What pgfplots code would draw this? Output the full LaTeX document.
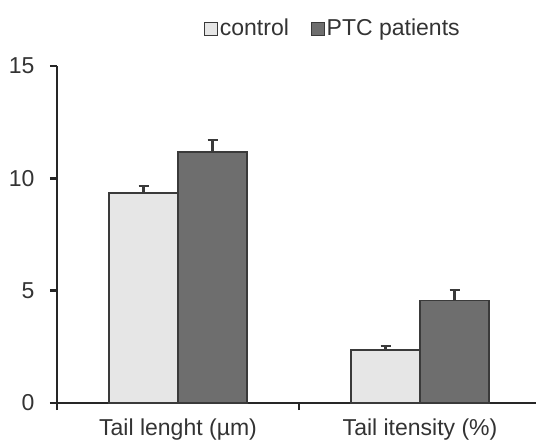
\documentclass[border=0pt]{standalone}
\usepackage{fontspec}
\setmainfont{Liberation Sans}
\usepackage{pgfplots}
\pgfplotsset{compat=1.18}
\definecolor{ctrl}{HTML}{E6E6E6}
\definecolor{ptc}{HTML}{6E6E6E}
\definecolor{edge}{HTML}{3A3A3A}
\definecolor{txt}{HTML}{333333}
\pgfplotsset{myerr/.style={
  error bars/y dir=plus, error bars/y explicit,
  error bars/error bar style={line width=2.5bp, edge},
  error bars/error mark options={line width=2.5bp, edge, mark size=5bp, rotate=90}}}
\begin{document}
\begin{tikzpicture}[x=1bp,y=1bp]
\useasboundingbox (-57bp,-41bp) rectangle (479bp,403bp);
\begin{axis}[
  at={(0,0)}, anchor=origin,
  scale only axis, width=479bp, height=337bp,
  xmin=0, xmax=1.979, ymin=0, ymax=15,
  axis lines*=left,
  axis line style={line width=2.6bp, black!85},
  tick align=outside,
  major tick length=7bp,
  every tick/.style={line width=2.4bp, black!85},
  xtick={0,1}, xticklabels={},
  extra x ticks={0.5,1.5},
  extra x tick labels={Tail lenght (µm),Tail itensity (\%)},
  extra x tick style={major tick length=0pt},
  ytick={0,5,10,15},
  /pgf/number format/assume math mode=true,
  tick label style={font=\fontsize{23bp}{26bp}\selectfont, text=txt},
  yticklabel style={xshift=-12bp},
  xticklabel style={yshift=-12bp},
  ybar=0pt, bar width=69bp,
  clip=false,
  legend style={at={(0.576,1.113)}, anchor=center, draw=none, fill=none,
    font=\fontsize{23bp}{26bp}\selectfont, text=txt, inner sep=0pt,
    /tikz/every even column/.append style={column sep=20bp}},
  legend columns=2,
  legend image code/.code={\draw[#1, line width=0.8bp] (-2bp,-7bp) rectangle (11bp,6bp);},
]
\addplot[fill=ctrl, draw=edge, line width=1.2bp, myerr] coordinates {(0.5,9.35) +- (0,0.3) (1.5,2.36) +- (0,0.18)};
\addplot[fill=ptc, draw=edge, line width=1.2bp, myerr] coordinates {(0.5,11.17) +- (0,0.53) (1.5,4.58) +- (0,0.45)};
\legend{control, PTC patients}
\end{axis}
\end{tikzpicture}
\end{document}
